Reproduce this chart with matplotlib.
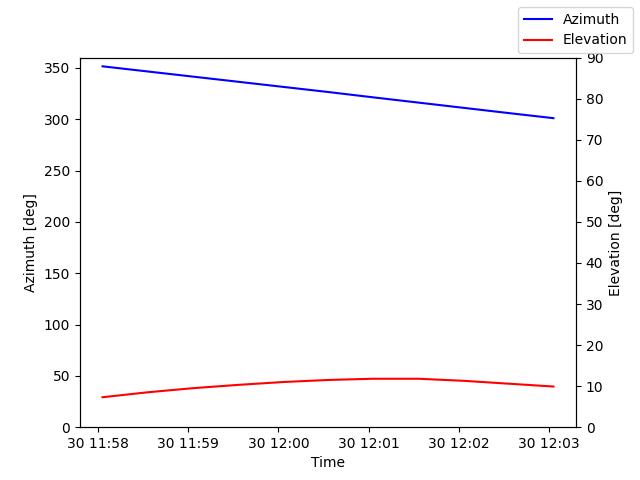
import matplotlib
matplotlib.use("Agg")
import matplotlib.pyplot as plt
import matplotlib.dates as mdates
import pandas as pd

times = pd.date_range("2024-01-30 11:58:03", periods=11, freq="30s")
azimuth = [351.5, 346.5, 341.5, 336.5, 331.5, 326.5, 321.3, 316.2, 311.1, 306.0, 301.0]
elevation = [7.3, 8.5, 9.5, 10.3, 11.0, 11.5, 11.8, 11.8, 11.3, 10.6, 9.9]

fig, ax = plt.subplots(figsize=(6.4, 4.8), dpi=100)
ax2 = ax.twinx()
l1, = ax.plot(times, azimuth, color="blue", label="Azimuth")
l2, = ax2.plot(times, elevation, color="red", label="Elevation")
ax.set_ylim(0, 360)
ax2.set_ylim(0, 90)
ax.set_xlabel("Time")
ax.set_ylabel("Azimuth [deg]")
ax2.set_ylabel("Elevation [deg]")
ax.xaxis.set_major_locator(mdates.MinuteLocator())
ax.xaxis.set_major_formatter(mdates.DateFormatter("%d %H:%M"))
fig.legend(handles=[l1, l2], loc="upper right")
fig.savefig("out.png")
